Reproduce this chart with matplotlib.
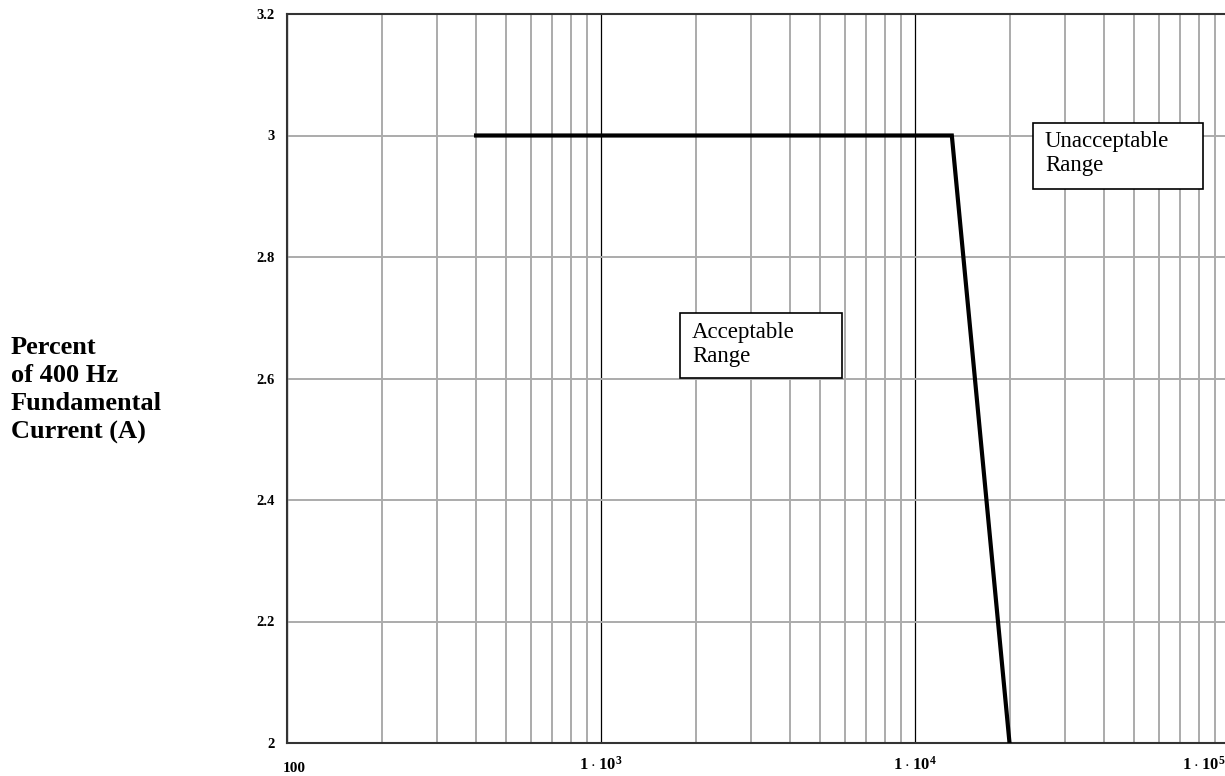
import matplotlib
matplotlib.use('Agg')
import matplotlib.pyplot as plt
from matplotlib.patches import Rectangle
from matplotlib.ticker import LogLocator, NullFormatter
from matplotlib.transforms import ScaledTranslation

# limit curve
freq = [400, 13100, 20000]
current = [3.0, 3.0, 2.0]

x_ticks = [100, 1e3, 1e4, 1e5]
x_tick_labels = ['100', r'$\mathbf{1\cdot10^{3}}$', r'$\mathbf{1\cdot10^{4}}$', r'$\mathbf{1\cdot10^{5}}$']
y_ticks = [2.0, 2.2, 2.4, 2.6, 2.8, 3.0, 3.2]
y_tick_labels = ['2', '2.2', '2.4', '2.6', '2.8', '3', '3.2']

ylabel = 'Percent\nof 400 Hz\nFundamental\nCurrent (A)'
label_ok = 'Acceptable\nRange'
label_bad = 'Unacceptable\nRange'

plt.rcParams['font.family'] = 'Liberation Serif'
plt.rcParams['mathtext.fontset'] = 'custom'
plt.rcParams['mathtext.rm'] = 'Liberation Serif'
plt.rcParams['mathtext.bf'] = 'Liberation Serif:bold'

W, H = 1225, 776
fig = plt.figure(figsize=(W / 100, H / 100), dpi=100)

# axes box in pixels (right edge runs just past the image)
left, right, top, bottom = 287, 1229, 14, 743
ax = fig.add_axes([left / W, 1 - bottom / H, (right - left) / W, (bottom - top) / H])

ax.plot(freq, current, color='black', lw=3, solid_joinstyle='miter', zorder=4)

ax.set_xscale('log')
ax.set_xlim(100, 1e5)
ax.set_ylim(2, 3.2)

ax.set_xticks(x_ticks)
ax.set_xticklabels(x_tick_labels)
ax.xaxis.set_minor_locator(LogLocator(base=10, subs=range(2, 10)))
ax.xaxis.set_minor_formatter(NullFormatter())
ax.set_yticks(y_ticks)
ax.set_yticklabels(y_tick_labels)

ax.tick_params(which='both', length=0)
ax.tick_params(axis='y', pad=9, labelsize=10.5)
ax.tick_params(axis='x', pad=9, labelsize=12)
for lab in ax.get_xticklabels() + ax.get_yticklabels():
    lab.set_fontweight('bold')

ax.grid(True, axis='x', which='major', color='black', lw=0.9)
ax.grid(True, axis='x', which='minor', color='#ababab', lw=1.4)
ax.grid(True, axis='y', which='major', color='#ababab', lw=1.4)
ax.set_axisbelow(True)

for sp in ax.spines.values():
    sp.set_color('#333333')
    sp.set_linewidth(1.5)

# "100" sits a bit right and low, last label is pulled inside the image
xl = ax.get_xticklabels()
xl[0].set_horizontalalignment('left')
xl[0].set_fontsize(11)
xl[0].set_transform(xl[0].get_transform() + ScaledTranslation(-0.04, -0.07, fig.dpi_scale_trans))
xl[-1].set_transform(xl[-1].get_transform() + ScaledTranslation(-0.25, 0, fig.dpi_scale_trans))

fig.text(11 / W, 1 - 390 / H, ylabel, fontsize=19, fontweight='bold',
         ha='left', va='center', linespacing=1.3)


def box_note(x0, y0, x1, y1, tx, ty, txt):
    ax.add_patch(Rectangle((x0 / W, 1 - y1 / H), (x1 - x0) / W, (y1 - y0) / H,
                           transform=fig.transFigure, facecolor='white',
                           edgecolor='black', lw=1.2, zorder=5, clip_on=False))
    ax.text(tx / W, 1 - ty / H, txt, transform=fig.transFigure, fontsize=16.5,
            ha='left', va='top', linespacing=1.2, zorder=6)


box_note(680, 313, 842, 378, 692, 322, label_ok)
box_note(1033, 123, 1203, 189, 1045, 131, label_bad)

fig.savefig('out.png', dpi=100)
